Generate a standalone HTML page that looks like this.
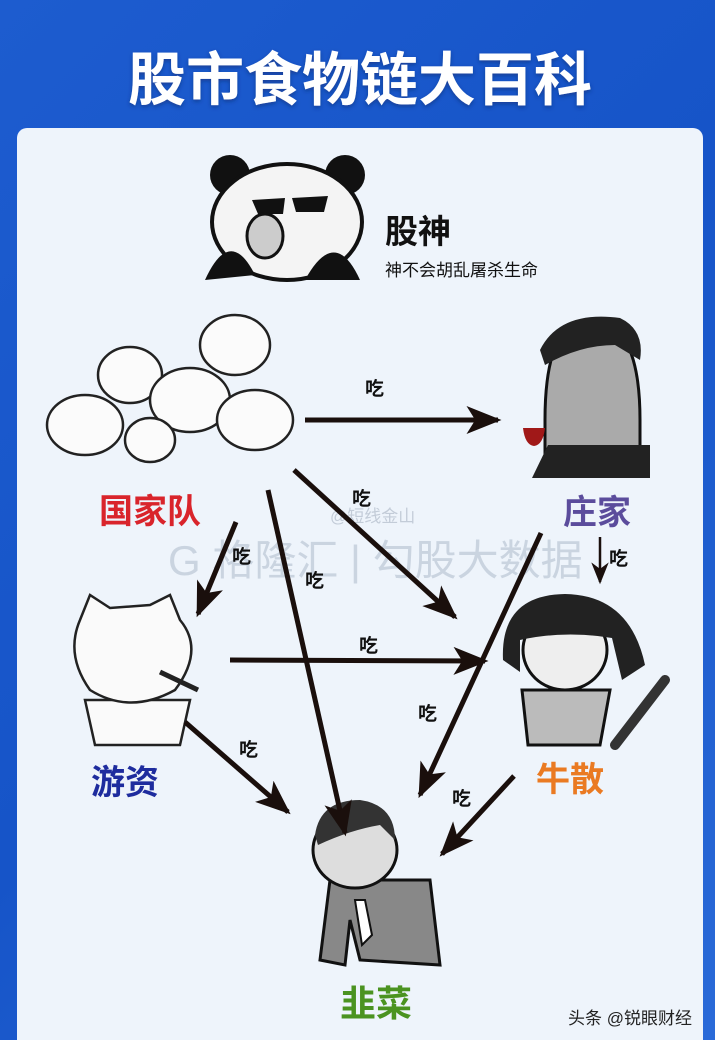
<!DOCTYPE html>
<html><head><meta charset="utf-8"><style>
html,body{margin:0;padding:0;width:715px;height:1040px;overflow:hidden;}
body{background:linear-gradient(135deg,#1d5ccf,#1654c8 50%,#2a6ad8);font-family:"Liberation Sans","Noto Sans CJK SC",sans-serif;}
</style></head><body>
<svg width="715" height="1040" viewBox="0 0 715 1040" xmlns="http://www.w3.org/2000/svg" style="position:absolute;left:0;top:0">
<defs>
<marker id="ah" viewBox="0 0 20 16" refX="18" refY="8" markerWidth="7" markerHeight="5.6" orient="auto" markerUnits="strokeWidth">
<path d="M0,0 L20,8 L0,16 L5,8 Z" fill="#1a0f0c"/></marker>
<marker id="ah2" viewBox="0 0 20 16" refX="18" refY="8" markerWidth="9" markerHeight="7" orient="auto" markerUnits="strokeWidth">
<path d="M0,0 L20,8 L0,16 L6,8 Z" fill="#1a0f0c"/></marker>
<filter id="sh"><feDropShadow dx="0" dy="2" stdDeviation="2" flood-color="#0a2a70" flood-opacity="0.6"/></filter>
</defs>
<text x="360" y="100" text-anchor="middle" font-size="58" font-weight="bold" fill="#fff" filter="url(#sh)" font-family="Liberation Sans,Noto Sans CJK SC,sans-serif">股市食物链大百科</text>
<rect x="17" y="128" width="686" height="940" rx="10" fill="#eef4fb"/>
<!-- panda -->
<g>
<ellipse cx="230" cy="175" rx="20" ry="20" fill="#111"/><ellipse cx="345" cy="175" rx="20" ry="20" fill="#111"/>
<ellipse cx="287" cy="222" rx="75" ry="58" fill="#f4f4f4" stroke="#111" stroke-width="4"/>
<path d="M205,280 Q230,225 255,275 Z" fill="#111"/><path d="M305,280 Q335,225 360,280 Z" fill="#111"/>
<path d="M252,200 L285,198 L283,214 L258,214 Z M292,198 L328,196 L324,212 L296,212 Z" fill="#111"/>
<ellipse cx="265" cy="236" rx="18" ry="22" fill="#ccc" stroke="#111" stroke-width="3"/>
</g>
<text x="385" y="243" font-size="33" font-weight="bold" fill="#111">股神</text>
<text x="385" y="276" font-size="17" fill="#111">神不会胡乱屠杀生命</text>
<!-- rabbits -->
<g fill="#fbfbfb" stroke="#222" stroke-width="2.5">
<ellipse cx="130" cy="375" rx="32" ry="28"/><ellipse cx="235" cy="345" rx="35" ry="30"/>
<ellipse cx="190" cy="400" rx="40" ry="32"/><ellipse cx="255" cy="420" rx="38" ry="30"/>
<ellipse cx="85" cy="425" rx="38" ry="30"/><ellipse cx="150" cy="440" rx="25" ry="22"/>
</g>
<!-- boss -->
<g>
<path d="M545,475 L545,420 Q545,320 590,320 Q640,320 640,420 L640,475 Z" fill="#aaa" stroke="#111" stroke-width="3"/>
<path d="M540,350 Q560,310 620,318 Q645,330 640,360 L615,345 Q580,345 545,365 Z" fill="#222"/>
<path d="M548,445 L650,445 L650,478 L532,478 Z" fill="#222"/>
<path d="M523,428 L545,428 Q543,445 534,446 Q525,445 523,428 Z" fill="#a01818"/>
</g>
<!-- youzi cat -->
<g fill="#fafafa" stroke="#222" stroke-width="2.5">
<path d="M85,700 L95,745 L180,745 L190,700 Z"/>
<path d="M80,620 L90,595 L110,608 L150,605 L170,595 L180,620 Q205,650 175,690 Q130,715 90,690 Q65,655 80,620 Z"/>
<line x1="160" y1="672" x2="198" y2="690" stroke-width="5"/>
</g>
<!-- niusan -->
<g>
<path d="M522,690 L528,745 L600,745 L610,690 Z" fill="#bbb" stroke="#111" stroke-width="3"/>
<ellipse cx="565" cy="650" rx="42" ry="40" fill="#eee" stroke="#111" stroke-width="3"/>
<path d="M503,660 Q500,595 565,594 Q630,595 645,665 L622,680 L612,638 Q565,630 520,640 L520,672 Z" fill="#222"/>
<line x1="615" y1="745" x2="665" y2="680" stroke="#333" stroke-width="10" stroke-linecap="round"/>
</g>
<!-- jiucai -->
<g>
<path d="M330,880 L320,960 L345,965 L350,920 L360,960 L440,965 L430,880 Z" fill="#888" stroke="#111" stroke-width="3"/>
<ellipse cx="355" cy="850" rx="42" ry="38" fill="#ddd" stroke="#111" stroke-width="3"/>
<path d="M315,835 Q320,800 360,800 Q395,805 395,840 L380,825 Q350,830 318,845 Z" fill="#333"/>
<path d="M355,900 L362,945 L372,935 L365,900 Z" fill="#fff" stroke="#111" stroke-width="2"/>
</g>
<!-- watermark -->
<text x="330" y="522" font-size="17" fill="#c3ccd8">@短线金山</text>
<text x="168" y="575" font-size="42" fill="#c7d1de" opacity="0.9">G 格隆汇 | 勾股大数据</text>
<!-- arrows -->
<g stroke="#1a0f0c" stroke-width="5" fill="none" stroke-linecap="butt">
<line x1="305" y1="420" x2="498" y2="420" marker-end="url(#ah)"/>
<line x1="294" y1="470" x2="455" y2="617" marker-end="url(#ah)"/>
<line x1="236" y1="522" x2="198" y2="614" marker-end="url(#ah)"/>
<line x1="268" y1="490" x2="345" y2="833" marker-end="url(#ah)"/>
<line x1="230" y1="660" x2="485" y2="661" marker-end="url(#ah)"/>
<line x1="185" y1="722" x2="288" y2="812" marker-end="url(#ah)"/>
<line x1="541" y1="533" x2="420" y2="795" marker-end="url(#ah)"/>
<line x1="514" y1="776" x2="442" y2="854" marker-end="url(#ah)"/>
<line x1="600" y1="537" x2="600" y2="582" stroke-width="2.5" marker-end="url(#ah2)"/>
</g>
<g font-size="19" font-weight="bold" fill="#111">
<text x="365" y="395">吃</text><text x="352" y="505">吃</text><text x="232" y="563">吃</text>
<text x="305" y="587">吃</text><text x="359" y="652">吃</text><text x="239" y="756">吃</text>
<text x="418" y="720">吃</text><text x="452" y="805">吃</text><text x="609" y="565">吃</text>
</g>
<text x="150" y="523" text-anchor="middle" font-size="34" font-weight="bold" fill="#d9242b">国家队</text>
<text x="597" y="524" text-anchor="middle" font-size="34" font-weight="bold" fill="#5b4c9c">庄家</text>
<text x="125" y="794" text-anchor="middle" font-size="34" font-weight="bold" fill="#1e2c9e">游资</text>
<text x="570" y="791" text-anchor="middle" font-size="34" font-weight="bold" fill="#ea7a22">牛散</text>
<text x="376" y="1016" text-anchor="middle" font-size="36" font-weight="bold" fill="#4b9320">韭菜</text>
<text x="568" y="1024" font-size="17" fill="#222">头条 @锐眼财经</text>
</svg>
</body></html>
